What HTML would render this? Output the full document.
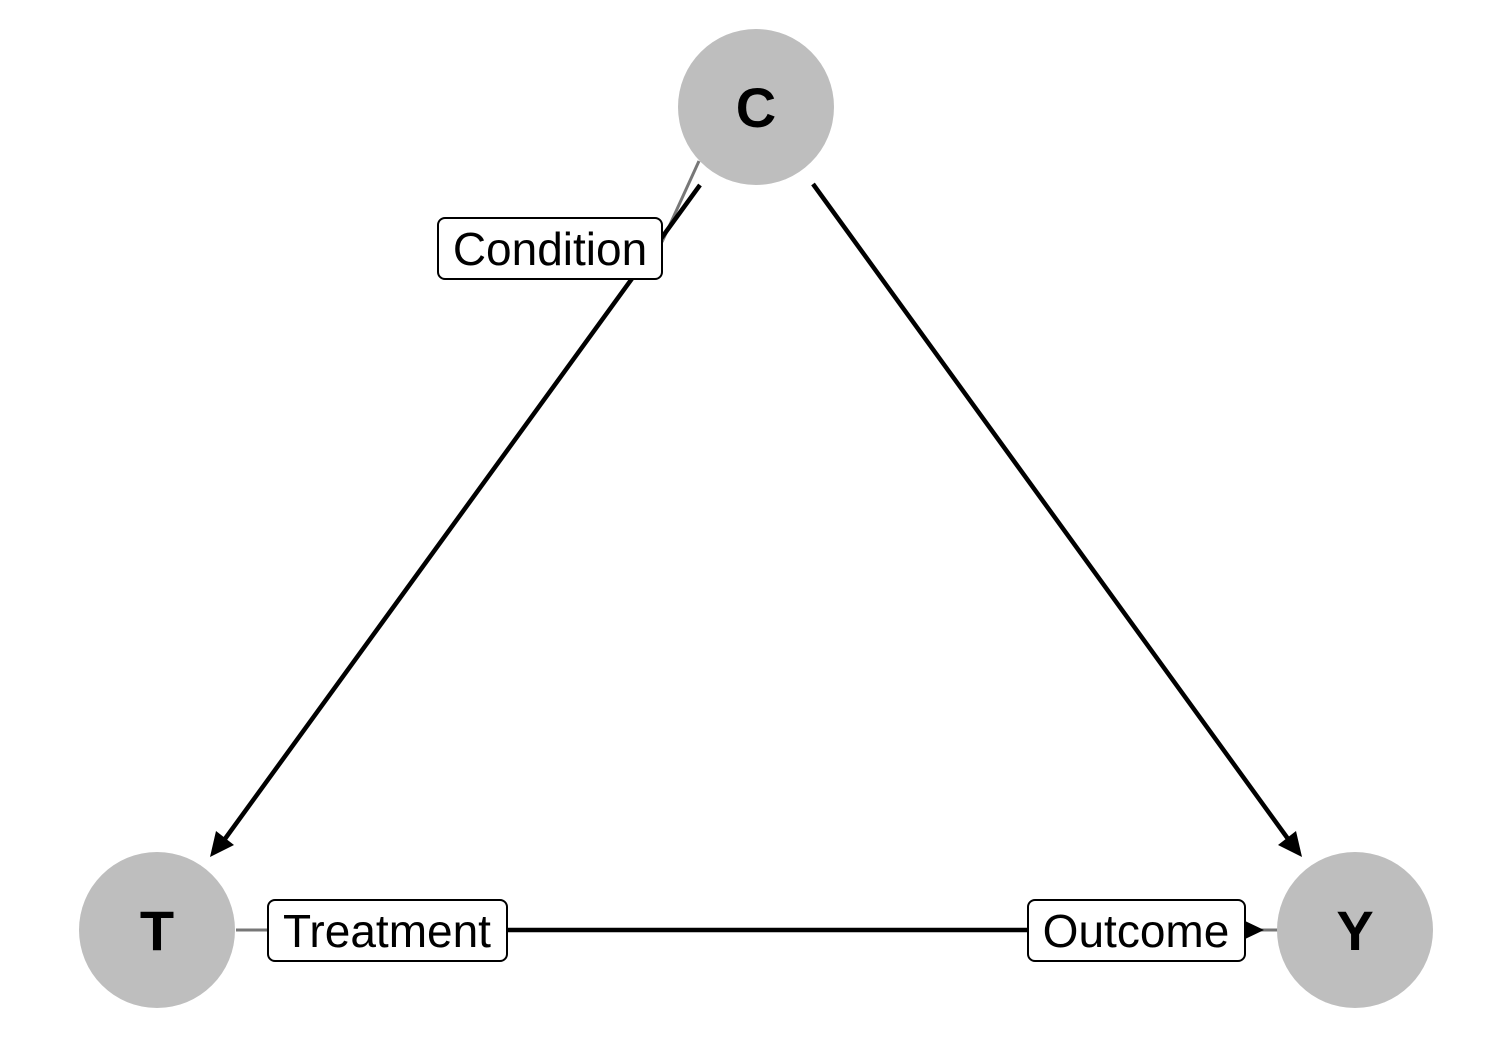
<!DOCTYPE html>
<html><head><meta charset="utf-8"><style>
html,body{margin:0;padding:0;background:#fff;}
svg{display:block;}
text{font-family:"Liberation Sans",sans-serif;}
</style></head><body>
<svg width="1500" height="1050" viewBox="0 0 1500 1050" xmlns="http://www.w3.org/2000/svg">
<line x1="699" y1="161" x2="662" y2="242" stroke="#777" stroke-width="3"/>
<line x1="236" y1="930" x2="270" y2="930" stroke="#777" stroke-width="3"/>
<line x1="1255" y1="930" x2="1280" y2="930" stroke="#777" stroke-width="3"/>
<circle cx="756" cy="107" r="78" fill="#bebebe"/>
<circle cx="157" cy="930" r="78" fill="#bebebe"/>
<circle cx="1355" cy="930" r="78" fill="#bebebe"/>
<text x="756" y="127" font-size="56" font-weight="bold" text-anchor="middle">C</text>
<text x="157" y="950" font-size="56" font-weight="bold" text-anchor="middle">T</text>
<text x="1355" y="950" font-size="56" font-weight="bold" text-anchor="middle">Y</text>
<line x1="700" y1="185" x2="222" y2="843" stroke="#000" stroke-width="4.5"/>
<polygon points="210,857 216,831 234,845" fill="#000"/>
<line x1="813" y1="184" x2="1291" y2="843" stroke="#000" stroke-width="4.5"/>
<polygon points="1302,857 1278,845 1296,831" fill="#000"/>
<line x1="300" y1="930" x2="1250" y2="930" stroke="#000" stroke-width="4.5"/>
<polygon points="1264,930 1243,920 1243,940" fill="#000"/>
<rect x="438" y="218" width="224" height="61" rx="7" fill="#fff" stroke="#000" stroke-width="2"/>
<text x="550" y="265" font-size="46" text-anchor="middle">Condition</text>
<rect x="268" y="900" width="239" height="61" rx="7" fill="#fff" stroke="#000" stroke-width="2"/>
<text x="387" y="947" font-size="46" text-anchor="middle">Treatment</text>
<rect x="1028" y="900" width="217" height="61" rx="7" fill="#fff" stroke="#000" stroke-width="2"/>
<text x="1136" y="947" font-size="46" text-anchor="middle">Outcome</text>
</svg>
</body></html>
